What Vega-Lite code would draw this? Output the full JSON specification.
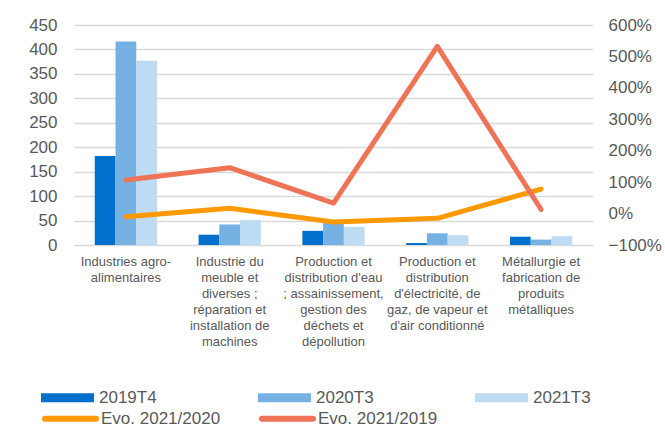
{
  "$schema": "https://vega.github.io/schema/vega-lite/v6.json",
  "width": 519,
  "height": 220,
  "autosize": {"type": "none"},
  "padding": {"left": 74, "top": 25, "right": 72, "bottom": 183},
  "background": "white",
  "config": {
    "view": {"stroke": null},
    "font": "Liberation Sans",
    "axis": {"labelFont": "Liberation Sans", "labelColor": "#595959", "ticks": false, "domain": false, "title": null},
    "legend": {"labelFont": "Liberation Sans", "labelColor": "#595959", "labelFontSize": 17, "title": null}
  },
  "datasets": {
    "bars": [
      {"cat": "Industries agro-|alimentaires", "serie": "2019T4", "value": 182},
      {"cat": "Industries agro-|alimentaires", "serie": "2020T3", "value": 416},
      {"cat": "Industries agro-|alimentaires", "serie": "2021T3", "value": 377},
      {"cat": "Industrie du|meuble et|diverses ;|réparation et|installation de|machines", "serie": "2019T4", "value": 21},
      {"cat": "Industrie du|meuble et|diverses ;|réparation et|installation de|machines", "serie": "2020T3", "value": 42},
      {"cat": "Industrie du|meuble et|diverses ;|réparation et|installation de|machines", "serie": "2021T3", "value": 51},
      {"cat": "Production et|distribution d'eau|; assainissement,|gestion des|déchets et|dépollution", "serie": "2019T4", "value": 29},
      {"cat": "Production et|distribution d'eau|; assainissement,|gestion des|déchets et|dépollution", "serie": "2020T3", "value": 47},
      {"cat": "Production et|distribution d'eau|; assainissement,|gestion des|déchets et|dépollution", "serie": "2021T3", "value": 37},
      {"cat": "Production et|distribution|d'électricité, de|gaz, de vapeur et|d'air conditionné", "serie": "2019T4", "value": 4},
      {"cat": "Production et|distribution|d'électricité, de|gaz, de vapeur et|d'air conditionné", "serie": "2020T3", "value": 24},
      {"cat": "Production et|distribution|d'électricité, de|gaz, de vapeur et|d'air conditionné", "serie": "2021T3", "value": 20},
      {"cat": "Métallurgie et|fabrication de|produits|métalliques", "serie": "2019T4", "value": 17},
      {"cat": "Métallurgie et|fabrication de|produits|métalliques", "serie": "2020T3", "value": 11},
      {"cat": "Métallurgie et|fabrication de|produits|métalliques", "serie": "2021T3", "value": 18}
    ],
    "evo": [
      {"cat": "Industries agro-|alimentaires", "serie": "Evo. 2021/2020", "evo": -0.10},
      {"cat": "Industrie du|meuble et|diverses ;|réparation et|installation de|machines", "serie": "Evo. 2021/2020", "evo": 0.17},
      {"cat": "Production et|distribution d'eau|; assainissement,|gestion des|déchets et|dépollution", "serie": "Evo. 2021/2020", "evo": -0.27},
      {"cat": "Production et|distribution|d'électricité, de|gaz, de vapeur et|d'air conditionné", "serie": "Evo. 2021/2020", "evo": -0.15},
      {"cat": "Métallurgie et|fabrication de|produits|métalliques", "serie": "Evo. 2021/2020", "evo": 0.78},
      {"cat": "Industries agro-|alimentaires", "serie": "Evo. 2021/2019", "evo": 1.07},
      {"cat": "Industrie du|meuble et|diverses ;|réparation et|installation de|machines", "serie": "Evo. 2021/2019", "evo": 1.46},
      {"cat": "Production et|distribution d'eau|; assainissement,|gestion des|déchets et|dépollution", "serie": "Evo. 2021/2019", "evo": 0.33},
      {"cat": "Production et|distribution|d'électricité, de|gaz, de vapeur et|d'air conditionné", "serie": "Evo. 2021/2019", "evo": 5.32},
      {"cat": "Métallurgie et|fabrication de|produits|métalliques", "serie": "Evo. 2021/2019", "evo": 0.13}
    ]
  },
  "encoding": {
    "x": {
      "field": "cat", "type": "nominal", "sort": null,
      "scale": {"paddingInner": 0.4, "paddingOuter": 0.2},
      "axis": {
        "labelExpr": "split(datum.label, '|')",
        "labelAngle": 0, "labelFontSize": 13, "labelLineHeight": 16,
        "labelPadding": 10, "labelLimit": 0, "labelOverlap": false, "labelBound": false,
        "grid": false
      }
    }
  },
  "layer": [
    {
      "data": {"name": "bars"},
      "mark": {"type": "bar"},
      "encoding": {
        "xOffset": {"field": "serie", "type": "nominal", "sort": null, "scale": {"paddingInner": 0, "paddingOuter": 0}},
        "y": {
          "field": "value", "type": "quantitative",
          "scale": {"domain": [0, 450], "nice": false},
          "axis": {"values": [0, 50, 100, 150, 200, 250, 300, 350, 400, 450], "labelFontSize": 17, "labelPadding": 17, "grid": true, "gridColor": "#d9d9d9", "gridWidth": 1.3}
        },
        "fill": {
          "field": "serie", "type": "nominal",
          "scale": {"domain": ["2019T4", "2020T3", "2021T3"], "range": ["#0070CC", "#75B1E3", "#BDDBF2"]},
          "legend": {
            "orient": "none", "legendX": -33, "legendY": 346, "direction": "horizontal", "columns": 3,
            "symbolType": "M-1,-0.17H1V0.17H-1Z", "symbolSize": 2809, "symbolStrokeWidth": 0,
            "labelOffset": 5, "columnPadding": 101
          }
        }
      }
    },
    {
      "data": {"name": "evo"},
      "mark": {"type": "line", "strokeWidth": 5, "strokeCap": "round", "strokeJoin": "round"},
      "encoding": {
        "y": {
          "field": "evo", "type": "quantitative",
          "scale": {"domain": [-1, 6], "nice": false},
          "axis": {"orient": "right", "values": [-1, 0, 1, 2, 3, 4, 5, 6], "format": ".0%", "labelFontSize": 17, "labelPadding": 15, "grid": false}
        },
        "stroke": {
          "field": "serie", "type": "nominal", "sort": null,
          "scale": {"domain": ["Evo. 2021/2020", "Evo. 2021/2019"], "range": ["#FF9900", "#EE7357"]},
          "legend": {
            "orient": "none", "legendX": -32, "legendY": 365, "direction": "horizontal", "columns": 2,
            "symbolType": "M-1,0H1", "symbolSize": 2601, "symbolStrokeWidth": 6,
            "labelOffset": 2, "columnPadding": 29,
            "encode": {"symbols": {"update": {"strokeCap": {"value": "round"}}}}
          }
        }
      }
    }
  ],
  "resolve": {"scale": {"y": "independent"}}
}
